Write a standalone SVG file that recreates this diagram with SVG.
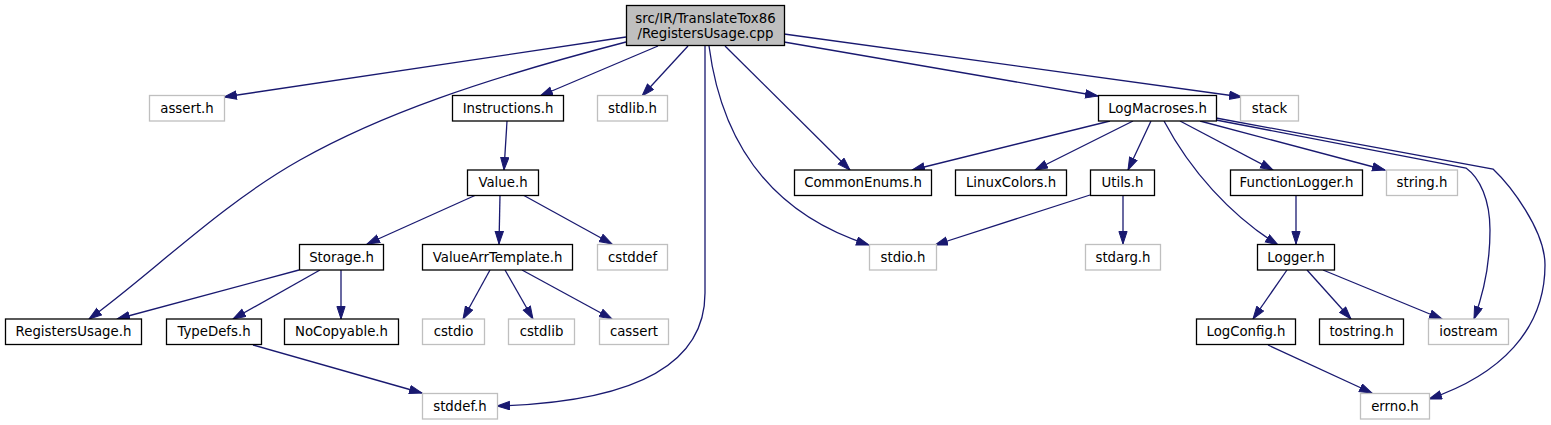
<svg xmlns="http://www.w3.org/2000/svg" width="1551" height="425" viewBox="0 0 1551 425">
<style>
.n rect{fill:#fff;stroke:#000;stroke-width:1.3}
.u rect{fill:#fff;stroke:#bfbfbf;stroke-width:1.3}
.r rect{fill:#bfbfbf;stroke:#000;stroke-width:1.3}
text{font-family:"DejaVu Sans",sans-serif;font-size:13.3px;fill:#000;text-anchor:middle}
#edges path{fill:none;stroke:#191970;stroke-width:1.3}
</style>
<defs>
<marker id="a" markerUnits="userSpaceOnUse" markerWidth="15" markerHeight="11" refX="13" refY="4.6" orient="auto">
<path d="M0.5,0.5 L13,4.6 L0.5,8.7 z" fill="#191970" stroke="#191970" stroke-width="1"/>
</marker>
</defs>
<rect width="1551" height="425" fill="#fff"/>
<g id="edges">
<path d="M626,37 L224,97" marker-end="url(#a)"/>
<path d="M626,42 C480,80 380,115 300,160 C220,205 150,275 89,319" marker-end="url(#a)"/>
<path d="M658,46 L540,96" marker-end="url(#a)"/>
<path d="M688,46 L642,96" marker-end="url(#a)"/>
<path d="M705,46 L705,293 C705,380 600,403 497,406" marker-end="url(#a)"/>
<path d="M709,46 C720,130 760,210 869,245" marker-end="url(#a)"/>
<path d="M725,46 L850,170" marker-end="url(#a)"/>
<path d="M784,42 L1098,96" marker-end="url(#a)"/>
<path d="M784,34 L1242,97" marker-end="url(#a)"/>
<path d="M1110,121 L912,170" marker-end="url(#a)"/>
<path d="M1133,121 L1035,170" marker-end="url(#a)"/>
<path d="M1151,121 L1128,170" marker-end="url(#a)"/>
<path d="M1164,121 C1190,170 1230,215 1278,245" marker-end="url(#a)"/>
<path d="M1180,121 L1273,170" marker-end="url(#a)"/>
<path d="M1200,121 L1385,170" marker-end="url(#a)"/>
<path d="M1216,120 L1466,168 C1480,178 1490,200 1490,230 C1490,265 1483,295 1474,319" marker-end="url(#a)"/>
<path d="M1216,118 L1493,169 C1510,185 1545,230 1545,265 C1545,330 1500,375 1429,399" marker-end="url(#a)"/>
<path d="M507,121 L504,170" marker-end="url(#a)"/>
<path d="M476,195 L367,244" marker-end="url(#a)"/>
<path d="M500,195 L499,244" marker-end="url(#a)"/>
<path d="M523,195 L612,244" marker-end="url(#a)"/>
<path d="M299,270 L117,319" marker-end="url(#a)"/>
<path d="M320,270 L233,319" marker-end="url(#a)"/>
<path d="M341,270 L341,319" marker-end="url(#a)"/>
<path d="M253,345 L422,393" marker-end="url(#a)"/>
<path d="M490,270 L463,319" marker-end="url(#a)"/>
<path d="M505,270 L533,319" marker-end="url(#a)"/>
<path d="M522,270 L612,319" marker-end="url(#a)"/>
<path d="M1090,195 L935,245" marker-end="url(#a)"/>
<path d="M1123,195 L1123,244" marker-end="url(#a)"/>
<path d="M1296,195 L1296,244" marker-end="url(#a)"/>
<path d="M1287,270 L1253,319" marker-end="url(#a)"/>
<path d="M1307,270 L1351,319" marker-end="url(#a)"/>
<path d="M1323,270 L1442,319" marker-end="url(#a)"/>
<path d="M1268,345 L1372,393" marker-end="url(#a)"/>
</g>
<g id="root" class="r"><rect x="626.5" y="5.5" width="158" height="40"/><text x="705.5" y="23">src/IR/TranslateTox86</text><text x="705.5" y="38">/RegistersUsage.cpp</text></g>
<g id="assert_h" class="u"><rect x="149.5" y="95.5" width="75" height="25.5"/><text x="187" y="112.5">assert.h</text></g>
<g id="Instructions_h" class="n"><rect x="452.5" y="95.5" width="111" height="25.5"/><text x="508" y="112.5">Instructions.h</text></g>
<g id="stdlib_h" class="u"><rect x="597.5" y="95.5" width="70" height="25.5"/><text x="632.5" y="112.5">stdlib.h</text></g>
<g id="LogMacroses_h" class="n"><rect x="1098.5" y="95.5" width="118" height="25.5"/><text x="1157.5" y="112.5">LogMacroses.h</text></g>
<g id="stack" class="u"><rect x="1240.5" y="95.5" width="58" height="25.5"/><text x="1269.5" y="112.5">stack</text></g>
<g id="Value_h" class="n"><rect x="467.5" y="170" width="71" height="25.5"/><text x="503" y="187">Value.h</text></g>
<g id="CommonEnums_h" class="n"><rect x="794.5" y="170" width="137" height="25.5"/><text x="863" y="187">CommonEnums.h</text></g>
<g id="LinuxColors_h" class="n"><rect x="955.5" y="170" width="111" height="25.5"/><text x="1011" y="187">LinuxColors.h</text></g>
<g id="Utils_h" class="n"><rect x="1090.5" y="170" width="64" height="25.5"/><text x="1122.5" y="187">Utils.h</text></g>
<g id="FunctionLogger_h" class="n"><rect x="1230.5" y="170" width="132" height="25.5"/><text x="1296.5" y="187">FunctionLogger.h</text></g>
<g id="string_h" class="u"><rect x="1386.5" y="170" width="71" height="25.5"/><text x="1422" y="187">string.h</text></g>
<g id="Storage_h" class="n"><rect x="299.5" y="244.5" width="84" height="25.5"/><text x="341.5" y="261.5">Storage.h</text></g>
<g id="ValueArrTemplate_h" class="n"><rect x="422.5" y="244.5" width="150" height="25.5"/><text x="497.5" y="261.5">ValueArrTemplate.h</text></g>
<g id="cstddef" class="u"><rect x="597.5" y="244.5" width="70" height="25.5"/><text x="632.5" y="261.5">cstddef</text></g>
<g id="stdio_h" class="u"><rect x="869.5" y="244.5" width="67" height="25.5"/><text x="903" y="261.5">stdio.h</text></g>
<g id="stdarg_h" class="u"><rect x="1085.5" y="244.5" width="75" height="25.5"/><text x="1123" y="261.5">stdarg.h</text></g>
<g id="Logger_h" class="n"><rect x="1257.5" y="244.5" width="77" height="25.5"/><text x="1296" y="261.5">Logger.h</text></g>
<g id="RegistersUsage_h" class="n"><rect x="5.5" y="319" width="136" height="25.5"/><text x="73.5" y="336">RegistersUsage.h</text></g>
<g id="TypeDefs_h" class="n"><rect x="166.5" y="319" width="95" height="25.5"/><text x="214" y="336">TypeDefs.h</text></g>
<g id="NoCopyable_h" class="n"><rect x="284.5" y="319" width="114" height="25.5"/><text x="341.5" y="336">NoCopyable.h</text></g>
<g id="cstdio" class="u"><rect x="422.5" y="319" width="62" height="25.5"/><text x="453.5" y="336">cstdio</text></g>
<g id="cstdlib" class="u"><rect x="508.5" y="319" width="66" height="25.5"/><text x="541.5" y="336">cstdlib</text></g>
<g id="cassert" class="u"><rect x="599.5" y="319" width="69" height="25.5"/><text x="634" y="336">cassert</text></g>
<g id="LogConfig_h" class="n"><rect x="1196.5" y="319" width="99" height="25.5"/><text x="1246" y="336">LogConfig.h</text></g>
<g id="tostring_h" class="n"><rect x="1319.5" y="319" width="84" height="25.5"/><text x="1361.5" y="336">tostring.h</text></g>
<g id="iostream" class="u"><rect x="1428.5" y="319" width="80" height="25.5"/><text x="1468.5" y="336">iostream</text></g>
<g id="stddef_h" class="u"><rect x="422.5" y="393.5" width="75" height="25.5"/><text x="460" y="410.5">stddef.h</text></g>
<g id="errno_h" class="u"><rect x="1360.5" y="393.5" width="69" height="25.5"/><text x="1395" y="410.5">errno.h</text></g>
</svg>
